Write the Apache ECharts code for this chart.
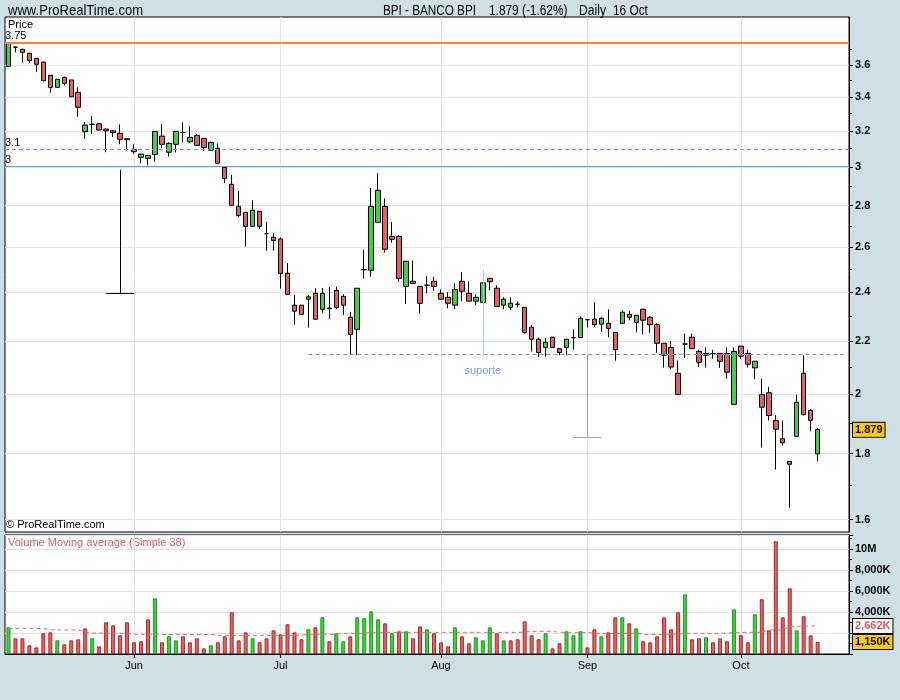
<!DOCTYPE html>
<html><head><meta charset="utf-8">
<script src="https://cdn.jsdelivr.net/npm/echarts@6/dist/echarts.min.js"></script>
<style>html,body{margin:0;padding:0;background:#cfdfe6;}#c{width:900px;height:700px;}</style>
</head><body><div id="c"></div>
<script>
// ---- trading days (2014) ----
const mayDays = [7,8,9,12,13,14,15,16,19,20,21,22,23,26,27,28,29,30];
const junDays = [2,3,4,5,6,9,10,11,12,13,16,17,18,19,20,23,24,25,26,27,30];
const julDays = [1,2,3,4,7,8,9,10,11,14,15,16,17,18,21,22,23,24,25,28,29,30,31];
const augDays = [1,4,5,6,7,8,11,12,13,14,15,18,19,20,21,22,25,26,27,28,29];
const sepDays = [1,2,3,4,5,8,9,10,11,12,15,16,17,18,19,22,23,24,25,26,29,30];
const octDays = [1,2,3,6,7,8,9,10,13,14,15,16];
const monthLabels = ['Jan','Feb','Mar','Apr','May','Jun','Jul','Aug','Sep','Oct','Nov','Dec'];
const emptySlots = ['e1','e2','e3','e4'];

// ---- OHLC ----
const openP = [3.59,3.715,3.70,3.674,3.641,3.617,3.533,3.458,3.52,3.504,
3.427,3.195,3.237,3.24,3.21,3.2,3.186,3.155,3.096,3.052,
3.047,3.068,3.17,3.08,3.124,3.191,3.138,3.174,3.157,3.091,
3.102,2.998,2.909,2.797,2.767,2.699,2.772,2.664,2.647,2.639,
2.482,2.345,2.345,2.37,2.395,2.328,2.333,2.408,2.382,2.295,
2.246,2.498,2.496,2.718,2.797,2.651,2.651,2.425,2.438,2.425,
2.43,2.447,2.395,2.378,2.345,2.447,2.395,2.362,2.357,2.46,
2.417,2.345,2.336,2.349,2.336,2.255,2.207,2.175,2.215,2.17,
2.175,2.213,2.213,2.285,2.287,2.267,2.27,2.234,2.27,2.307,
2.274,2.328,2.295,2.265,2.191,2.175,2.077,2.188,2.215,2.159,
2.145,2.151,2.152,2.152,1.965,2.18,2.152,2.097,1.999,2.006,
1.909,1.848,1.766,1.856,2.077,1.944,1.799];
const highP = [3.745,3.718,3.705,3.676,3.641,3.62,3.533,3.508,3.525,3.504,
3.458,3.25,3.286,3.245,3.212,3.205,3.237,3.155,3.124,3.07,
3.063,3.197,3.239,3.135,3.197,3.249,3.227,3.182,3.157,3.14,
3.129,3.005,2.958,2.874,2.767,2.827,2.772,2.72,2.666,2.647,
2.528,2.388,2.345,2.388,2.417,2.418,2.422,2.424,2.391,2.317,
2.417,2.588,2.89,2.968,2.837,2.72,2.656,2.536,2.54,2.425,
2.47,2.467,2.412,2.4,2.438,2.487,2.447,2.391,2.44,2.46,
2.43,2.378,2.378,2.36,2.336,2.263,2.213,2.212,2.215,2.17,
2.207,2.246,2.298,2.285,2.357,2.295,2.328,2.234,2.324,2.32,
2.303,2.33,2.3,2.27,2.191,2.2,2.125,2.229,2.229,2.166,
2.175,2.166,2.152,2.175,2.175,2.18,2.166,2.122,2.057,2.027,
1.927,1.909,1.775,1.999,2.145,1.948,1.884];
const lowP = [3.59,3.68,3.613,3.613,3.555,3.495,3.425,3.458,3.47,3.40,
3.281,3.155,3.182,3.2,3.08,3.165,3.124,3.089,3.069,3.02,
3.009,3.028,3.102,3.056,3.08,3.135,3.132,3.115,3.089,3.09,
3.02,2.914,2.80,2.743,2.603,2.699,2.687,2.584,2.584,2.415,
2.391,2.265,2.307,2.253,2.287,2.314,2.287,2.328,2.304,2.145,
2.145,2.459,2.467,2.718,2.575,2.621,2.445,2.35,2.438,2.31,
2.395,2.406,2.366,2.332,2.328,2.362,2.362,2.345,2.357,2.408,
2.34,2.328,2.324,2.336,2.229,2.159,2.139,2.139,2.175,2.145,
2.145,2.166,2.213,2.253,2.257,2.236,2.215,2.124,2.27,2.283,
2.234,2.226,2.232,2.155,2.098,2.092,2.0,2.134,2.17,2.1,
2.098,2.131,2.097,2.057,1.965,2.131,2.098,2.055,1.819,1.909,
1.749,1.825,1.634,1.856,1.926,1.873,1.775];
const closeP = [3.74,3.715,3.68,3.627,3.603,3.499,3.458,3.508,3.483,3.40,
3.337,3.233,3.238,3.205,3.2,3.19,3.152,3.15,3.083,3.07,
3.063,3.197,3.124,3.129,3.197,3.191,3.163,3.118,3.107,3.135,
3.02,2.94,2.802,2.752,2.699,2.777,2.699,2.664,2.632,2.482,
2.391,2.32,2.307,2.38,2.287,2.395,2.33,2.336,2.345,2.226,
2.417,2.498,2.797,2.878,2.591,2.637,2.46,2.536,2.447,2.353,
2.43,2.425,2.37,2.353,2.412,2.404,2.362,2.378,2.44,2.445,
2.34,2.37,2.353,2.349,2.234,2.207,2.155,2.195,2.175,2.155,
2.207,2.213,2.291,2.285,2.265,2.291,2.25,2.166,2.316,2.295,
2.303,2.283,2.265,2.191,2.145,2.10,2.0,2.188,2.17,2.118,
2.152,2.151,2.122,2.081,2.159,2.141,2.111,2.122,1.955,1.926,
1.88,1.835,1.775,1.972,1.93,1.91,1.879];

// ---- volume (millions) and its 38-day moving average ----
const volumeM = [2.54,1.49,1.49,0.83,0.63,1.97,2.06,1.30,0.92,1.30,
1.40,2.44,1.49,0.73,3.02,2.73,1.78,3.02,1.11,1.21,
3.30,5.30,1.11,1.68,1.30,1.68,1.11,1.49,0.54,0.83,
1.11,1.68,3.97,1.30,2.06,1.49,1.11,1.49,2.25,1.87,
2.83,2.06,1.40,2.35,2.54,3.49,1.21,1.97,1.21,1.68,
3.49,3.40,4.06,3.30,2.92,1.97,2.16,2.16,1.49,2.63,
2.35,1.97,1.11,0.73,2.54,1.68,1.02,1.59,1.30,2.54,
1.97,1.30,1.30,1.40,3.11,1.78,1.40,1.97,0.54,1.02,
2.16,1.78,2.16,0.63,2.35,1.68,2.06,3.49,3.49,2.92,
2.44,1.21,1.11,1.68,3.49,2.35,3.97,5.68,1.40,1.49,
1.59,1.11,1.49,1.21,4.25,1.78,1.11,3.78,5.21,2.25,
10.73,3.49,6.25,2.25,3.59,1.78,1.15];
const volMA38 = [2.44,2.44,2.44,2.44,2.43,2.43,2.30,2.29,2.29,2.29,
2.28,2.10,2.00,1.99,1.99,1.99,1.99,1.98,1.88,1.88,
1.87,1.87,1.87,1.87,1.87,1.86,1.86,1.86,1.86,1.86,
1.79,1.78,1.78,1.78,1.78,1.78,1.78,1.78,1.78,1.78,
1.78,1.78,1.79,1.87,1.87,1.87,1.87,1.88,1.97,1.97,
1.97,1.98,2.06,2.06,2.06,2.06,2.06,2.06,2.06,2.06,
2.06,2.06,2.06,2.06,2.06,2.06,2.06,2.06,2.06,2.06,
2.06,2.06,2.06,2.06,2.07,2.16,2.16,2.16,2.15,2.06,
2.06,2.06,2.06,2.05,1.97,1.97,1.97,1.97,1.97,1.97,
1.97,1.87,1.87,1.87,1.87,1.87,1.88,1.97,1.97,1.97,
1.97,1.97,1.97,1.98,2.06,2.06,2.06,2.06,2.07,2.29,
2.29,2.30,2.62,2.64,2.65,2.66,2.662];

// ---- axis ticks / reference levels ----
const priceTicks = [3.6,3.4,3.2,3,2.8,2.6,2.4,2.2,2,1.8,1.6];
const priceMinorTicks = [3.7,3.5,3.3,3.1,2.9,2.7,2.5,2.3,2.1,1.9,1.7];
const priceRange = [1.565, 3.92];
const volRangeMax = 11.33;
const lastPrice = 1.879, lastVolumeK = '1,150K', maLastK = '2,662K', maLast = 2.662;

// ---- build ----
const dates = [];
[['2014-05',mayDays],['2014-06',junDays],['2014-07',julDays],['2014-08',augDays],['2014-09',sepDays],['2014-10',octDays]]
  .forEach(([m, ds]) => ds.forEach(d => dates.push(m + '-' + String(d).padStart(2,'0'))));
const categories = dates.concat(emptySlots);
const monthStart = new Set();
for (let i = 1; i < dates.length; i++) if (dates[i].slice(5,7) !== dates[i-1].slice(5,7)) monthStart.add(i);
const isMonthStart = (idx) => monthStart.has(idx);

const LN = Math.log;
const FONT = '"Liberation Sans", Arial, sans-serif';
const RED = '#e06262', RED_B = '#a82a2a', GREEN = '#46cc46', GREEN_B = '#1a9a1a';
const BLUE = '#6a9af0';
const GRIDC = '#e3e3e3';
const NONE = 'rgba(0,0,0,0)';

const candleData = openP.map((o, i) => [LN(o), LN(closeP[i]), LN(lowP[i]), LN(highP[i])]);
const volData = volumeM.map((v, i) => {
  const up = i === 0 ? closeP[0] >= openP[0] : closeP[i] > closeP[i-1];
  return { value: v, itemStyle: { color: up ? GREEN : RED, borderColor: up ? GREEN_B : RED_B } };
});
const fmtPrice = v => String(Math.round(Math.exp(v) * 10) / 10);

const seg = (x1, p1, x2, p2, color) => [
  { coord: [x1, LN(p1)], lineStyle: { color, width: 1, type: 'solid' } },
  { coord: [x2, LN(p2)] }
];
const levelLabel = (txt) => ({ show: true, position: 'insideStartTop', formatter: txt, color: '#000',
  fontSize: 11, fontFamily: FONT, distance: [0, 1] });
const boxLabel = (txt, bg, fg) => ({ show: true, position: 'end', formatter: txt, color: fg, backgroundColor: bg,
  borderColor: '#000', borderWidth: 1, padding: [2, 2, 1, 2], fontWeight: 'bold', fontSize: 11, fontFamily: FONT, distance: 4 });

const titleFont = '15px ' + FONT;
const option = {
  animation: false,
  backgroundColor: '#cfdfe6',
  grid: [
    { left: 5, right: 51, top: 17, height: 515, show: true, backgroundColor: '#fff', borderColor: '#000', borderWidth: 1 },
    { left: 5, right: 51, top: 535, height: 119, show: true, backgroundColor: '#fff', borderColor: '#000', borderWidth: 1 }
  ],
  xAxis: [
    { type: 'category', gridIndex: 0, data: categories, boundaryGap: true,
      axisLine: { show: false }, axisTick: { show: false }, axisLabel: { show: false },
      splitLine: { show: true, interval: isMonthStart, alignWithLabel: true, lineStyle: { color: GRIDC } } },
    { type: 'category', gridIndex: 1, data: categories, boundaryGap: true,
      axisLine: { show: true, lineStyle: { color: '#000' } },
      axisTick: { show: true, interval: isMonthStart, alignWithLabel: true, length: 4, lineStyle: { color: '#000' } },
      axisLabel: { interval: isMonthStart, formatter: v => monthLabels[parseInt(v.slice(5,7), 10) - 1],
        color: '#000', fontSize: 11, fontFamily: FONT, margin: 6 },
      splitLine: { show: true, interval: isMonthStart, alignWithLabel: true, lineStyle: { color: GRIDC } } }
  ],
  yAxis: [
    { type: 'value', gridIndex: 0, position: 'right', min: LN(priceRange[0]), max: LN(priceRange[1]),
      axisLine: { show: true, lineStyle: { color: '#000' } },
      axisTick: { show: true, customValues: priceTicks.map(LN), length: 4, lineStyle: { color: '#000' } },
      axisLabel: { customValues: priceTicks.map(LN), formatter: fmtPrice, color: '#000', fontWeight: 'bold',
        fontSize: 11, fontFamily: FONT, margin: 6 },
      splitLine: { show: true, customValues: priceTicks.map(LN), lineStyle: { color: GRIDC } } },
    { type: 'value', gridIndex: 0, position: 'right', min: LN(priceRange[0]), max: LN(priceRange[1]),
      axisLine: { show: false },
      axisTick: { show: true, customValues: priceMinorTicks.map(LN), length: 3, lineStyle: { color: '#000' } },
      axisLabel: { show: false }, splitLine: { show: false } },
    { type: 'value', gridIndex: 1, position: 'right', min: 0, max: volRangeMax, interval: 2,
      axisLine: { show: true, lineStyle: { color: '#000' } },
      axisTick: { show: true, length: 4, lineStyle: { color: '#000' } },
      minorTick: { show: true, splitNumber: 2, length: 3, lineStyle: { color: '#000' } },
      axisLabel: { formatter: v => (v > 10.5 || v <= 2) ? '' : (v >= 10 ? v + 'M' : (v * 1000).toLocaleString('en-US') + 'K'),
        color: '#000', fontWeight: 'bold', fontSize: 11, fontFamily: FONT, margin: 6 },
      splitLine: { show: true, lineStyle: { color: GRIDC } } }
  ],
  series: [
    { type: 'candlestick', xAxisIndex: 0, yAxisIndex: 0, data: candleData, barWidth: 5,
      itemStyle: { color: GREEN, color0: RED, borderColor: '#000', borderColor0: '#000', borderColorDoji: '#000', borderWidth: 1 },
      emphasis: { disabled: true },
      markLine: { silent: true, symbol: ['none', 'none'], animation: false, clip: false, label: { show: false },
        data: [
          { yAxis: LN(3.75), lineStyle: { color: '#ff7f3f', width: 2, type: 'solid' }, label: levelLabel('3.75') },
          { yAxis: LN(3.1), lineStyle: { color: BLUE, width: 1, type: [4, 3] }, label: levelLabel('3.1') },
          { yAxis: LN(3.0), lineStyle: { color: BLUE, width: 1, type: 'solid' }, label: levelLabel('3') },
          [ { coord: [43, LN(2.15)], lineStyle: { color: BLUE, width: 1, type: [4, 3] } }, { coord: [120, LN(2.15)] } ],
          seg(16, 2.985, 16, 2.397, '#000'),
          seg(14, 2.397, 18, 2.397, '#000'),
          seg(68, 2.496, 68, 2.15, '#a9c6f5'),
          seg(83, 2.15, 83, 1.852, '#a0a0a0'),
          seg(81, 1.852, 85, 1.852, '#a0a0a0'),
          { yAxis: LN(lastPrice), lineStyle: { color: NONE, width: 1 }, label: boxLabel(String(lastPrice), '#ffcc00', '#000') }
        ] },
      markPoint: { silent: true, symbol: 'circle', symbolSize: 0, animation: false,
        data: [ { coord: [68, LN(2.085)], label: { show: true, position: 'inside', formatter: 'suporte',
          color: '#6f9ff0', fontSize: 11, fontFamily: FONT } } ] } },
    { type: 'bar', xAxisIndex: 1, yAxisIndex: 2, data: volData, barWidth: 4, itemStyle: { borderWidth: 1 },
      emphasis: { disabled: true },
      markLine: { silent: true, symbol: ['none', 'none'], animation: false, clip: false,
        data: [ { yAxis: volumeM[volumeM.length - 1], lineStyle: { color: NONE, width: 1 }, label: boxLabel(lastVolumeK, '#ffcc00', '#000') } ] } },
    { type: 'line', xAxisIndex: 1, yAxisIndex: 2, data: volMA38, symbol: 'none', silent: true,
      lineStyle: { color: '#e86a6a', width: 1, type: [4, 3] },
      markLine: { silent: true, symbol: ['none', 'none'], animation: false, clip: false,
        data: [ { yAxis: maLast, lineStyle: { color: NONE, width: 1 }, label: boxLabel(maLastK, '#ffffff', '#e05a5a') } ] } }
  ],
  graphic: [
    { type: 'text', x: 8, y: 3, scaleX: 0.87, style: { text: 'www.ProRealTime.com', font: titleFont, fill: '#000' } },
    { type: 'text', x: 383, y: 3, scaleX: 0.78, style: { text: 'BPI - BANCO BPI', font: titleFont, fill: '#000' } },
    { type: 'text', x: 489, y: 3, scaleX: 0.79, style: { text: '1.879 (-1.62%)', font: titleFont, fill: '#000' } },
    { type: 'text', x: 579, y: 3, scaleX: 0.81, style: { text: 'Daily', font: titleFont, fill: '#000' } },
    { type: 'text', x: 613, y: 3, scaleX: 0.79, style: { text: '16 Oct', font: titleFont, fill: '#000' } },
    { type: 'text', left: 8, top: 19, style: { text: 'Price', font: '11px ' + FONT, fill: '#000' } },
    { type: 'text', left: 6, top: 519, style: { text: '\u00a9 ProRealTime.com', font: '11px ' + FONT, fill: '#000' } },
    { type: 'text', left: 8, top: 537, style: { text: 'Volume Moving average (Simple 38)', font: '11px ' + FONT, fill: '#e06060' } }
  ]
};
const chart = echarts.init(document.getElementById('c'));
chart.setOption(option);
</script></body></html>
